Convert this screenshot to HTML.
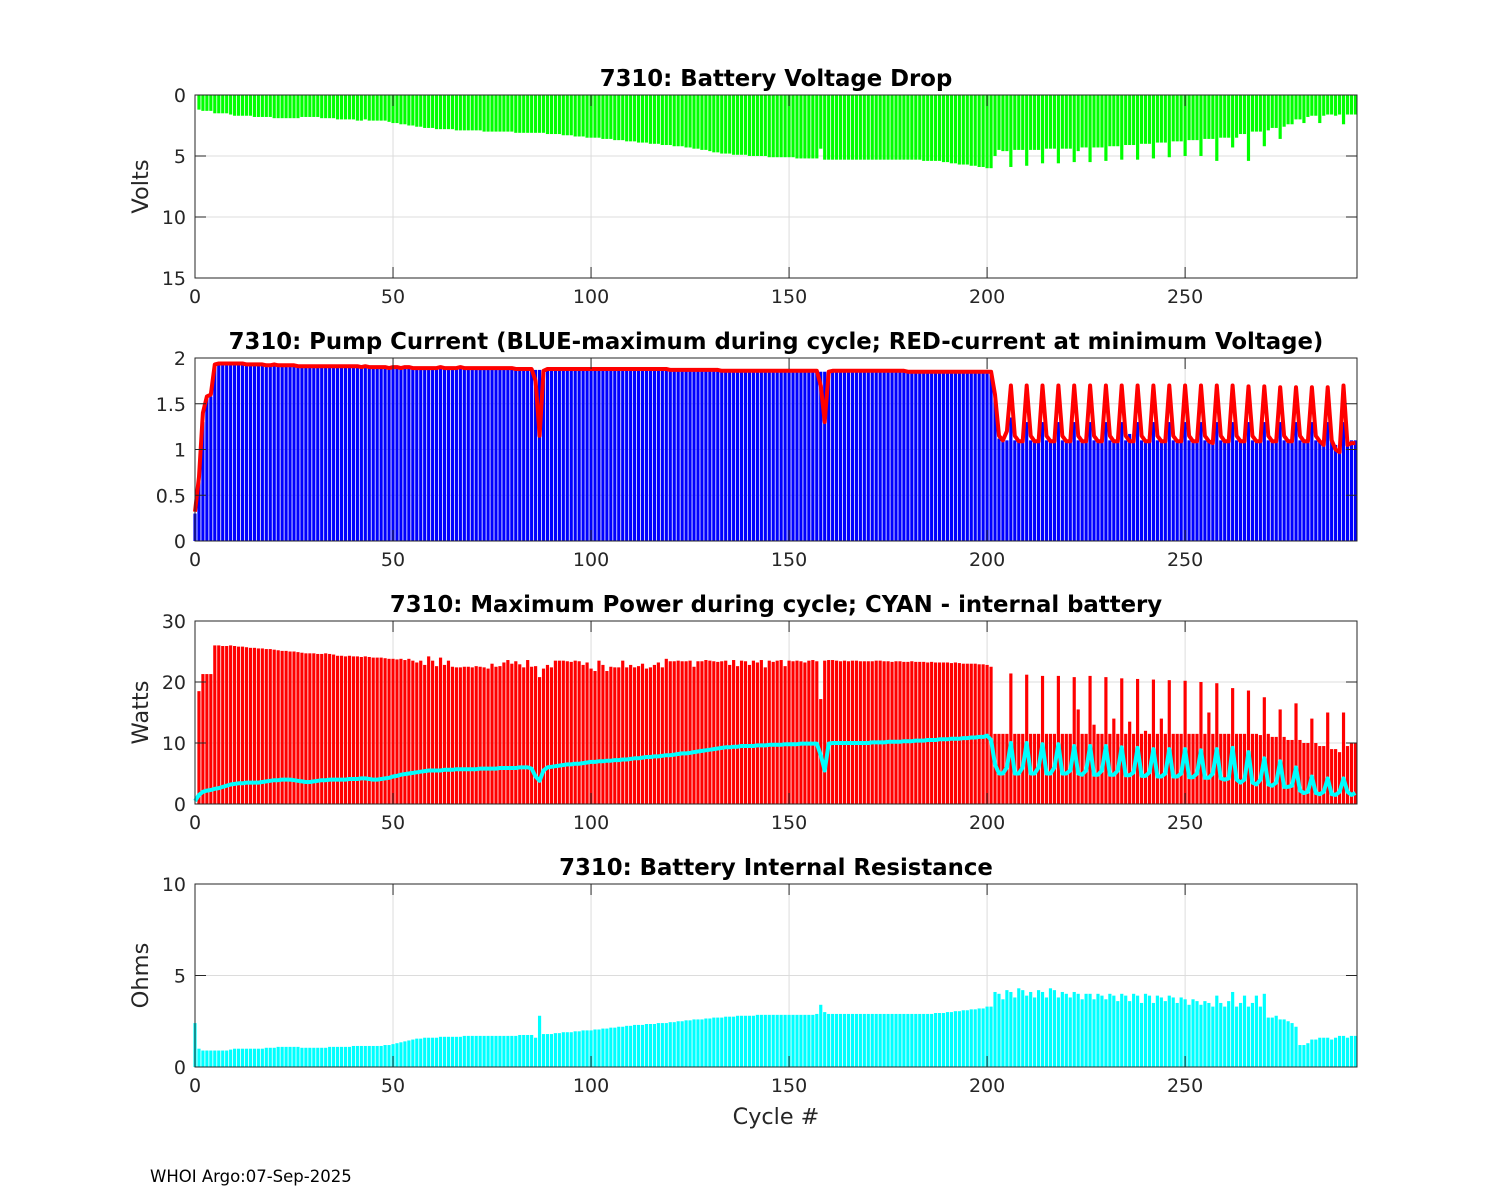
<!DOCTYPE html>
<html><head><meta charset="utf-8">
<style>
html,body{margin:0;padding:0;background:#fff;}
svg{display:block;font-family:"DejaVu Sans","Liberation Sans",sans-serif;}
</style></head>
<body>
<svg id="fig" width="1500" height="1200" viewBox="0 0 1500 1200" xmlns="http://www.w3.org/2000/svg">
<rect width="1500" height="1200" fill="#fff"/>
<text x="150" y="1182" font-size="16.5" fill="#000">WHOI Argo:07-Sep-2025</text>
</svg>
<script>
// ---- data (cycle 0..293) ----
const cycles = Array.from({length:294},(_, i)=>i);
const voltageDrop = [
0,1.2,1.3,1.3,1.3,1.5,1.5,1.5,1.5,1.6,
1.7,1.7,1.7,1.7,1.7,1.8,1.8,1.8,1.8,1.8,
1.9,1.9,1.9,1.9,1.9,1.9,1.9,1.8,1.8,1.8,
1.8,1.8,1.9,1.9,1.9,1.9,2.0,2.0,2.0,2.0,
2.0,2.1,2.1,2.0,2.1,2.1,2.1,2.1,2.1,2.2,
2.3,2.3,2.4,2.4,2.5,2.5,2.6,2.6,2.7,2.7,
2.7,2.8,2.8,2.8,2.8,2.8,2.9,2.9,2.9,2.9,
2.9,2.9,2.9,3.0,3.0,3.0,3.0,3.0,3.0,3.0,
3.0,3.1,3.1,3.1,3.1,3.1,3.1,3.1,3.1,3.2,
3.2,3.2,3.2,3.3,3.3,3.3,3.4,3.4,3.4,3.5,
3.5,3.5,3.5,3.6,3.6,3.6,3.7,3.7,3.7,3.8,
3.8,3.8,3.9,3.9,3.9,4.0,4.0,4.0,4.1,4.1,
4.1,4.2,4.2,4.2,4.3,4.3,4.4,4.4,4.5,4.5,
4.6,4.7,4.7,4.8,4.8,4.8,4.9,4.9,4.9,4.9,
5.0,5.0,5.0,5.0,5.0,5.1,5.1,5.1,5.1,5.1,
5.1,5.1,5.2,5.2,5.2,5.2,5.2,5.2,4.4,5.3,
5.3,5.3,5.3,5.3,5.3,5.3,5.3,5.3,5.3,5.3,
5.3,5.3,5.3,5.3,5.3,5.3,5.3,5.3,5.3,5.3,
5.3,5.3,5.3,5.3,5.4,5.4,5.4,5.4,5.4,5.5,
5.5,5.6,5.6,5.7,5.7,5.7,5.8,5.8,5.9,5.9,
6.0,6.0,5.0,4.5,4.6,4.6,5.9,4.5,4.5,4.5,
5.8,4.5,4.5,4.5,5.6,4.4,4.4,4.4,5.6,4.4,
4.4,4.4,5.5,4.6,4.3,4.3,5.5,4.3,4.3,4.3,
5.4,4.2,4.2,4.2,5.3,4.1,4.1,4.1,5.3,4.0,
4.0,4.0,5.2,3.9,3.9,3.9,5.1,3.8,3.8,3.8,
5.0,3.7,3.7,3.7,5.0,3.6,3.6,3.6,5.4,3.5,
3.5,3.5,4.3,3.5,3.2,3.2,5.4,3.0,3.0,3.0,
4.2,2.9,2.7,2.7,3.6,2.6,2.4,2.4,2.0,2.0,
2.3,1.8,1.7,1.7,2.3,1.7,1.6,1.6,1.7,1.6,
2.4,1.6,1.6,1.6];
const maxCurrent = [
0.3,0.7,1.3,1.55,1.58,1.92,1.93,1.93,1.93,1.93,
1.93,1.93,1.93,1.92,1.92,1.92,1.92,1.92,1.91,1.91,
1.92,1.91,1.91,1.91,1.91,1.91,1.90,1.90,1.90,1.90,
1.90,1.90,1.90,1.90,1.90,1.90,1.90,1.90,1.90,1.90,
1.90,1.90,1.89,1.90,1.89,1.89,1.89,1.89,1.89,1.88,
1.89,1.89,1.88,1.89,1.89,1.88,1.88,1.88,1.88,1.88,
1.88,1.88,1.89,1.88,1.88,1.88,1.88,1.89,1.88,1.88,
1.88,1.88,1.88,1.88,1.88,1.88,1.88,1.88,1.88,1.88,
1.88,1.87,1.87,1.87,1.87,1.87,1.87,1.87,1.87,1.87,
1.87,1.87,1.87,1.87,1.87,1.87,1.87,1.87,1.87,1.87,
1.87,1.87,1.87,1.87,1.87,1.87,1.87,1.87,1.87,1.87,
1.87,1.87,1.87,1.87,1.87,1.87,1.87,1.87,1.87,1.87,
1.86,1.86,1.86,1.86,1.86,1.86,1.86,1.86,1.86,1.86,
1.86,1.86,1.86,1.85,1.85,1.85,1.85,1.85,1.85,1.85,
1.85,1.85,1.85,1.85,1.85,1.85,1.85,1.85,1.85,1.85,
1.85,1.85,1.85,1.85,1.85,1.85,1.85,1.85,1.85,1.85,
1.85,1.85,1.85,1.85,1.85,1.85,1.85,1.85,1.85,1.85,
1.85,1.85,1.85,1.85,1.85,1.85,1.85,1.85,1.85,1.85,
1.84,1.84,1.84,1.84,1.84,1.84,1.84,1.84,1.84,1.84,
1.84,1.84,1.84,1.84,1.84,1.84,1.84,1.84,1.84,1.84,
1.84,1.84,1.55,1.12,1.1,1.1,1.35,1.1,1.1,1.1,
1.3,1.1,1.1,1.1,1.3,1.1,1.1,1.1,1.3,1.1,
1.1,1.1,1.3,1.1,1.1,1.1,1.3,1.1,1.1,1.1,
1.3,1.1,1.1,1.1,1.3,1.1,1.17,1.1,1.3,1.1,
1.1,1.15,1.3,1.1,1.1,1.1,1.3,1.1,1.1,1.1,
1.3,1.1,1.1,1.1,1.3,1.1,1.1,1.1,1.3,1.1,
1.1,1.1,1.3,1.1,1.1,1.1,1.3,1.1,1.1,1.1,
1.3,1.1,1.1,1.1,1.3,1.1,1.1,1.1,1.3,1.1,
1.1,1.1,1.3,1.1,1.1,1.1,1.3,1.1,1.05,1.05,
1.3,1.05,1.1,1.1];
const minVoltCurrent = [
0.32,0.7,1.4,1.58,1.6,1.93,1.94,1.94,1.94,1.94,
1.94,1.94,1.94,1.93,1.93,1.93,1.93,1.93,1.92,1.92,
1.93,1.92,1.92,1.92,1.92,1.92,1.91,1.91,1.91,1.91,
1.91,1.91,1.91,1.91,1.91,1.91,1.91,1.91,1.91,1.91,
1.91,1.91,1.90,1.91,1.90,1.90,1.90,1.90,1.90,1.89,
1.90,1.90,1.89,1.90,1.90,1.89,1.89,1.89,1.89,1.89,
1.89,1.89,1.90,1.89,1.89,1.89,1.89,1.90,1.89,1.89,
1.89,1.89,1.89,1.89,1.89,1.89,1.89,1.89,1.89,1.89,
1.89,1.88,1.88,1.88,1.88,1.88,1.75,1.15,1.86,1.88,
1.88,1.88,1.88,1.88,1.88,1.88,1.88,1.88,1.88,1.88,
1.88,1.88,1.88,1.88,1.88,1.88,1.88,1.88,1.88,1.88,
1.88,1.88,1.88,1.88,1.88,1.88,1.88,1.88,1.88,1.88,
1.87,1.87,1.87,1.87,1.87,1.87,1.87,1.87,1.87,1.87,
1.87,1.87,1.87,1.86,1.86,1.86,1.86,1.86,1.86,1.86,
1.86,1.86,1.86,1.86,1.86,1.86,1.86,1.86,1.86,1.86,
1.86,1.86,1.86,1.86,1.86,1.86,1.86,1.86,1.7,1.3,
1.85,1.86,1.86,1.86,1.86,1.86,1.86,1.86,1.86,1.86,
1.86,1.86,1.86,1.86,1.86,1.86,1.86,1.86,1.86,1.86,
1.85,1.85,1.85,1.85,1.85,1.85,1.85,1.85,1.85,1.85,
1.85,1.85,1.85,1.85,1.85,1.85,1.85,1.85,1.85,1.85,
1.85,1.85,1.6,1.15,1.1,1.2,1.7,1.15,1.09,1.09,
1.7,1.15,1.09,1.09,1.7,1.15,1.09,1.09,1.7,1.15,
1.09,1.09,1.7,1.15,1.09,1.09,1.7,1.15,1.09,1.09,
1.7,1.15,1.09,1.09,1.7,1.15,1.09,1.09,1.7,1.15,
1.09,1.09,1.7,1.15,1.09,1.09,1.7,1.15,1.09,1.09,
1.7,1.15,1.09,1.09,1.7,1.15,1.09,1.07,1.7,1.15,
1.09,1.09,1.7,1.15,1.09,1.09,1.69,1.15,1.09,1.09,
1.69,1.15,1.09,1.09,1.68,1.15,1.09,1.09,1.68,1.15,
1.09,1.09,1.68,1.15,1.09,1.05,1.68,1.1,1.0,0.97,
1.7,1.05,1.07,1.07];
const maxPower = [
0,18.5,21.3,21.3,21.3,26,26,25.9,25.9,26,
25.9,25.8,25.8,25.7,25.6,25.6,25.5,25.5,25.4,25.4,
25.3,25.2,25.1,25.1,25.0,25.0,24.9,24.8,24.7,24.7,
24.7,24.6,24.6,24.7,24.6,24.5,24.3,24.3,24.2,24.3,
24.2,24.2,24.1,24.2,24.1,24.0,24.0,24.0,23.9,23.8,
23.8,23.7,23.8,23.6,23.8,23.5,23.2,23.5,22.8,24.2,
23.5,22.6,24.0,22.8,23.5,22.5,22.4,22.4,22.5,22.5,
22.4,22.6,22.5,22.4,22.2,23.0,22.5,22.6,23.2,23.6,
23.0,23.4,22.9,22.4,23.6,22.5,22.6,20.8,22.2,22.8,
22.4,23.5,23.5,23.5,23.4,23.3,23.5,23.4,22.8,23.2,
22.2,21.8,23.5,22.8,21.8,22.5,22.4,22.4,23.5,22.4,
22.8,22.4,22.6,23.0,22.2,22.4,22.8,23.2,22.4,23.8,
23.4,23.4,23.5,23.4,23.4,23.5,22.5,23.4,23.4,23.6,
23.5,23.4,23.3,23.4,23.5,22.8,23.6,22.6,23.5,23.4,
22.8,23.5,23.2,23.6,22.4,23.5,23.3,23.5,23.6,22.6,
23.5,23.4,23.5,23.4,23.2,23.5,23.6,23.4,17.2,23.5,
23.6,23.6,23.5,23.4,23.5,23.4,23.5,23.5,23.4,23.4,
23.4,23.4,23.5,23.5,23.4,23.4,23.3,23.4,23.4,23.3,
23.3,23.4,23.3,23.3,23.3,23.2,23.3,23.2,23.2,23.2,
23.2,23.1,23.2,23.1,23.0,23.0,23.0,23.0,22.9,22.9,
22.8,22.5,11.5,11.5,11.5,11.5,21.4,11.5,11.5,11.5,
21.2,11.5,11.5,11.5,21.0,11.5,11.5,11.5,21.0,11.5,
11.5,11.5,20.8,15.5,11.5,11.5,21.0,13.0,11.5,11.5,
20.8,11.5,14.0,11.5,20.6,11.5,13.5,11.5,20.5,11.5,
12.0,11.5,20.4,11.5,14.0,11.5,20.3,11.5,11.5,11.5,
20.2,11.5,11.5,11.5,20.0,11.5,15.0,11.5,19.8,11.5,
11.5,11.5,19.0,11.5,11.5,11.5,18.6,11.5,11.5,11.3,
17.5,11.5,11.0,11.0,15.5,11.0,10.5,10.5,16.5,10.5,
10.0,10.0,14.0,10.0,9.5,9.5,15.0,9.0,9.0,8.5,
15.0,9.5,10.0,10.0];
const internalPower = [
0.5,1.5,2.0,2.2,2.3,2.5,2.6,2.8,3.0,3.2,
3.3,3.4,3.4,3.5,3.5,3.5,3.5,3.6,3.7,3.8,
3.9,3.9,4.0,4.0,4.0,3.9,3.8,3.7,3.6,3.6,
3.7,3.8,3.9,3.9,4.0,4.0,4.0,4.0,4.0,4.1,
4.1,4.1,4.2,4.2,4.1,4.0,4.0,4.1,4.2,4.3,
4.5,4.6,4.8,4.9,5.0,5.1,5.2,5.3,5.4,5.5,
5.5,5.5,5.5,5.6,5.6,5.6,5.7,5.7,5.7,5.7,
5.7,5.7,5.8,5.8,5.8,5.8,5.8,5.9,5.9,5.9,
5.9,5.9,6.0,6.0,6.0,5.8,4.5,3.8,5.5,6.0,
6.1,6.2,6.3,6.4,6.5,6.5,6.6,6.6,6.7,6.8,
6.9,6.9,7.0,7.0,7.1,7.1,7.2,7.2,7.3,7.3,
7.4,7.5,7.5,7.6,7.7,7.7,7.8,7.8,7.9,8.0,
8.0,8.1,8.2,8.3,8.3,8.4,8.5,8.6,8.7,8.8,
8.9,9.0,9.1,9.2,9.3,9.3,9.4,9.4,9.5,9.5,
9.5,9.5,9.6,9.6,9.6,9.7,9.7,9.7,9.7,9.8,
9.8,9.8,9.8,9.9,9.9,9.9,9.9,9.9,8.0,5.5,
9.9,10.0,10.0,10.0,10.0,10.0,10.0,10.0,10.0,10.0,
10.0,10.1,10.1,10.1,10.1,10.2,10.2,10.2,10.2,10.3,
10.3,10.3,10.4,10.4,10.4,10.5,10.5,10.5,10.6,10.6,
10.6,10.7,10.7,10.7,10.8,10.8,10.9,10.9,11.0,11.0,
11.2,10.5,6.5,5.0,5.0,6.0,10.0,5.0,5.0,6.0,
10.0,5.0,5.0,6.0,9.8,5.0,5.0,6.0,9.8,5.0,
5.0,5.5,9.5,5.0,4.8,5.5,9.5,4.8,4.8,5.5,
9.5,4.8,4.8,5.5,9.3,4.7,4.7,5.2,9.2,4.6,
4.6,5.2,9.0,4.5,4.5,5.0,9.0,4.5,4.5,5.0,
9.0,4.4,4.4,5.0,8.8,4.3,4.3,5.0,9.0,4.2,
4.0,4.2,9.2,4.0,3.5,4.0,8.5,3.5,3.2,4.0,
7.5,3.2,3.0,3.5,7.0,2.8,2.8,3.0,6.0,2.2,
1.8,2.0,4.5,1.8,1.6,2.0,4.2,1.6,1.5,2.0,
4.2,2.0,1.5,1.8];
const resistance = [
2.4,1.0,0.9,0.9,0.9,0.9,0.9,0.9,0.9,0.95,
1.0,1.0,1.0,1.0,1.0,1.0,1.0,1.0,1.05,1.05,
1.05,1.1,1.1,1.1,1.1,1.1,1.1,1.05,1.05,1.05,
1.05,1.05,1.05,1.05,1.1,1.1,1.1,1.1,1.1,1.1,
1.15,1.15,1.15,1.15,1.15,1.15,1.15,1.15,1.2,1.2,
1.25,1.3,1.35,1.4,1.45,1.5,1.55,1.55,1.6,1.6,
1.6,1.6,1.65,1.65,1.65,1.65,1.65,1.65,1.7,1.7,
1.7,1.7,1.7,1.7,1.7,1.7,1.7,1.7,1.7,1.7,
1.7,1.7,1.75,1.75,1.75,1.75,1.6,2.8,1.8,1.8,
1.8,1.85,1.85,1.9,1.9,1.9,1.95,1.95,2.0,2.0,
2.0,2.05,2.05,2.1,2.1,2.15,2.15,2.2,2.2,2.25,
2.25,2.3,2.3,2.3,2.35,2.35,2.35,2.4,2.4,2.4,
2.45,2.45,2.5,2.5,2.55,2.55,2.6,2.6,2.6,2.65,
2.65,2.7,2.7,2.7,2.75,2.75,2.75,2.8,2.8,2.8,
2.8,2.8,2.85,2.85,2.85,2.85,2.85,2.85,2.85,2.85,
2.85,2.85,2.85,2.85,2.85,2.85,2.85,2.9,3.4,3.0,
2.9,2.9,2.9,2.9,2.9,2.9,2.9,2.9,2.9,2.9,
2.9,2.9,2.9,2.9,2.9,2.9,2.9,2.9,2.9,2.9,
2.9,2.9,2.9,2.9,2.9,2.9,2.9,2.95,2.95,2.95,
3.0,3.0,3.05,3.05,3.1,3.1,3.15,3.15,3.2,3.2,
3.3,3.3,4.1,4.0,3.7,4.2,4.1,3.8,4.3,4.2,
3.9,4.1,3.8,4.2,4.1,3.8,4.3,4.2,3.8,4.1,
4.0,3.8,4.1,4.0,3.7,4.0,4.0,3.7,4.0,3.9,
3.7,4.0,3.9,3.6,4.0,3.9,3.6,4.0,3.9,3.5,
4.0,3.9,3.5,3.9,3.8,3.6,3.9,3.8,3.5,3.8,
3.7,3.4,3.7,3.6,3.4,3.6,3.5,3.3,3.9,3.5,
3.3,3.6,4.1,3.3,3.5,3.9,3.3,3.5,3.9,3.3,
4.0,2.7,2.7,2.8,2.6,2.6,2.5,2.4,2.2,1.2,
1.2,1.3,1.5,1.5,1.6,1.6,1.6,1.5,1.6,1.7,
1.7,1.6,1.7,1.7];
const xTicks = [0,50,100,150,200,250];
const voltTicks = [0,5,10,15];
const currTicks = [0,0.5,1,1.5,2];
const currTickLabels = ['0','0.5','1','1.5','2'];
const powerTicks = [0,10,20,30];
const resTicks = [0,5,10];

// ---- layout ----
const X0=195, X1=1357, XMAX=293.4;
const xScale = v => X0 + v*(X1-X0)/XMAX;
const svg = document.getElementById('fig');
const NS='http://www.w3.org/2000/svg';
function mk(tag, attrs, parent){
  const e=document.createElementNS(NS,tag);
  for(const k in attrs) e.setAttribute(k,attrs[k]);
  (parent||svg).appendChild(e); return e;
}
function panel(cfg){
  const g=mk('g',{});
  
  
  const yS = v => cfg.rev ? cfg.top + (v-cfg.ymin)/(cfg.ymax-cfg.ymin)*(cfg.bot-cfg.top)
                          : cfg.bot - (v-cfg.ymin)/(cfg.ymax-cfg.ymin)*(cfg.bot-cfg.top);
  xTicks.forEach(t=>{ const l=mk('line',{x1:xScale(t),x2:xScale(t),y1:cfg.top,y2:cfg.bot,stroke:'#dcdcdc','stroke-width':1},g);
      });
  cfg.ticks.forEach(t=>{ const l=mk('line',{x1:X0,x2:X1,y1:yS(t),y2:yS(t),stroke:'#dcdcdc','stroke-width':1},g);
      });
  cfg.bars.forEach(b=>{
    b.data.forEach((v,i)=>{
      if(!v) return;
      const x=xScale(cycles[i]-0.4), w=xScale(0.8)-X0;
      const y0=yS(0), y1=yS(v);
      const r=mk('rect',{x:x,y:Math.min(y0,y1),width:w,height:Math.abs(y1-y0),fill:b.color},g);
      
      
    });
  });
  (cfg.lines||[]).forEach(ln=>{
    const pts=ln.data.map((v,i)=>xScale(cycles[i]).toFixed(1)+','+yS(v).toFixed(1)).join(' ');
    const p=mk('polyline',{points:pts,fill:'none',stroke:ln.color,'stroke-width':4,'stroke-linejoin':'round'},g);
    
    
  });
  const fr=mk('rect',{x:X0,y:cfg.top,width:X1-X0,height:cfg.bot-cfg.top,fill:'none',stroke:'#262626','stroke-width':1},g);
   
  xTicks.forEach(t=>{
    mk('line',{x1:xScale(t),x2:xScale(t),y1:cfg.bot,y2:cfg.bot-11,stroke:'#262626'},g);
    mk('line',{x1:xScale(t),x2:xScale(t),y1:cfg.top,y2:cfg.top+11,stroke:'#262626'},g);
    const tx=mk('text',{x:xScale(t),y:cfg.bot+25,'font-size':19,'text-anchor':'middle',fill:'#262626'},g);
    tx.textContent=t;
     
  });
  cfg.ticks.forEach((t,i)=>{
    mk('line',{x1:X0,x2:X0+11,y1:yS(t),y2:yS(t),stroke:'#262626'},g);
    mk('line',{x1:X1,x2:X1-11,y1:yS(t),y2:yS(t),stroke:'#262626'},g);
    const tx=mk('text',{x:X0-9,y:yS(t)+7,'font-size':19,'text-anchor':'end',fill:'#262626'},g);
    tx.textContent=cfg.tickLabels?cfg.tickLabels[i]:t;
     
  });
  const tt=mk('text',{x:(X0+X1)/2,y:cfg.top-9,'font-size':22.8,'font-weight':'bold','text-anchor':'middle',fill:'#000'},g);
  tt.textContent=cfg.title;
   
  if(cfg.ylabel){
    const cy=(cfg.top+cfg.bot)/2;
    const yl=mk('text',{x:148,y:cy,'font-size':22.5,'text-anchor':'middle',fill:'#262626',transform:'rotate(-90 148 '+cy+')'},g);
    yl.textContent=cfg.ylabel;
     
  }
}
panel({name:'voltage-drop-panel',top:95,bot:278,ymin:0,ymax:15,rev:true,ticks:voltTicks,
  title:'7310: Battery Voltage Drop',ylabel:'Volts',bars:[{data:voltageDrop,color:'#00ff00',label:'voltage-bar'}]});
panel({name:'pump-current-panel',top:358,bot:541,ymin:0,ymax:2,ticks:currTicks,tickLabels:currTickLabels,
  title:'7310: Pump Current (BLUE-maximum during cycle; RED-current at minimum Voltage)',
  bars:[{data:maxCurrent,color:'#0000ff',label:'max-current-bar'}],
  lines:[{data:minVoltCurrent,color:'#ff0000',label:'min-voltage-current-line'}]});
panel({name:'max-power-panel',top:621,bot:804,ymin:0,ymax:30,ticks:powerTicks,
  title:'7310: Maximum Power during cycle; CYAN - internal battery',ylabel:'Watts',
  bars:[{data:maxPower,color:'#ff0000',label:'max-power-bar'}],
  lines:[{data:internalPower,color:'#00ffff',label:'internal-battery-power-line'}]});
panel({name:'resistance-panel',top:884,bot:1067,ymin:0,ymax:10,ticks:resTicks,
  title:'7310: Battery Internal Resistance',ylabel:'Ohms',
  bars:[{data:resistance,color:'#00ffff',label:'resistance-bar'}]});
const xl=mk('text',{x:776,y:1124,'font-size':22.3,'text-anchor':'middle',fill:'#262626'});
xl.textContent='Cycle #';


</script>
</body></html>
